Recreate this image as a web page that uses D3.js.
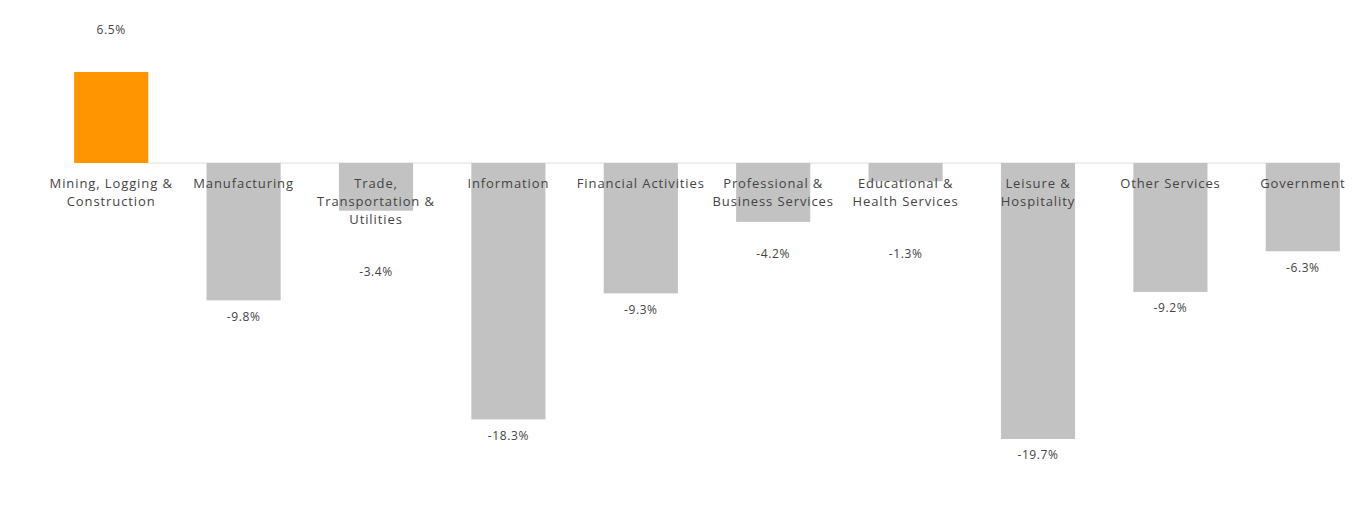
<!DOCTYPE html>
<html><head><meta charset="utf-8">
<script src="https://cdn.jsdelivr.net/npm/d3@7"></script>
<style>body{margin:0;background:#fff;}svg{display:block;font-family:"Open Sans",sans-serif;}</style>
</head><body><div id="chart"></div>
<script>
const categories = ["Mining, Logging & Construction","Manufacturing","Trade, Transportation & Utilities","Information","Financial Activities","Professional & Business Services","Educational & Health Services","Leisure & Hospitality","Other Services","Government"];
const categoryLines = [["Mining, Logging &","Construction"],["Manufacturing"],["Trade,","Transportation &","Utilities"],["Information"],["Financial Activities"],["Professional &","Business Services"],["Educational &","Health Services"],["Leisure &","Hospitality"],["Other Services"],["Government"]];
const values = [6.5,-9.8,-3.4,-18.3,-9.3,-4.2,-1.3,-19.7,-9.2,-6.3];
const highlight = [true,false,false,false,false,false,false,false,false,false];

const W=1370,H=508;
const svg=d3.select("#chart").append("svg").attr("width",W).attr("height",H);
const x=d3.scaleBand().domain(categories).range([45,1369]).paddingInner(0.44).paddingOuter(0.22);
const y=d3.scaleLinear().domain([-19.7,6.5]).range([439,72]);
const z=y(0);

svg.append("line").attr("x1",x(categories[0])+x.bandwidth()).attr("x2",x(categories[categories.length-1])+x.bandwidth())
  .attr("y1",z).attr("y2",z).attr("stroke","#dcdcdc").attr("stroke-width",1);

svg.selectAll("rect.bar").data(values).join("rect").attr("class","bar")
  .attr("x",(d,i)=>x(categories[i])).attr("width",x.bandwidth())
  .attr("y",d=>Math.min(y(d),z)).attr("height",d=>Math.abs(y(d)-z))
  .attr("fill",(d,i)=>highlight[i]?"#ff9500":"#c2c2c2");

const lh=18, catTop=z+22;
const fmt=v=>(v<0?"-":"")+Math.abs(v).toFixed(1)+"%";
categories.forEach((c,i)=>{
  const cx=x(c)+x.bandwidth()/2;
  const t=svg.append("text").attr("x",cx).attr("text-anchor","middle").attr("dominant-baseline","middle")
    .attr("font-size",13).attr("letter-spacing",0.9).attr("fill","#444");
  categoryLines[i].forEach((l,j)=>t.append("tspan").attr("x",cx).attr("y",catTop+j*lh).text(l));
  const v=values[i];
  let ly;
  if(v>=0){ ly=y(v)-41; }
  else{
    const catBottom=catTop+(categoryLines[i].length-1)*lh;
    const bb=y(v)+17;
    ly = bb < catBottom+56 ? catBottom+52 : bb;
  }
  svg.append("text").attr("x",cx).attr("y",ly).attr("text-anchor","middle").attr("dominant-baseline","middle")
    .attr("font-size",12).attr("letter-spacing",0.6).attr("fill","#444").text(fmt(v));
});
</script></body></html>
